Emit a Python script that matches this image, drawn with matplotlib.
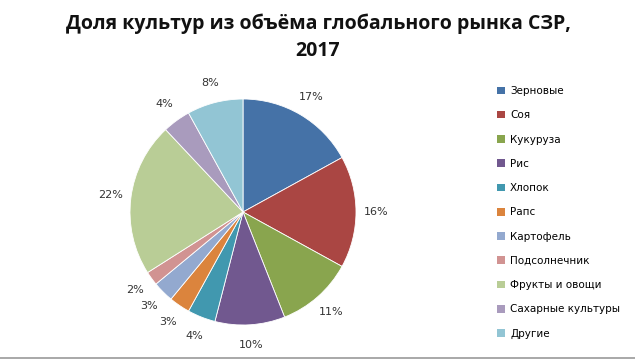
import matplotlib
matplotlib.use("Agg")
import matplotlib.pyplot as plt
from matplotlib.patches import Patch
from matplotlib.lines import Line2D

categories = ["Зерновые", "Соя", "Кукуруза", "Рис", "Хлопок", "Рапс",
              "Картофель", "Подсолнечник", "Фрукты и овощи",
              "Сахарные культуры", "Другие"]
values = [17, 16, 11, 10, 4, 3, 3, 2, 22, 4, 8]
colors = ["#4572A7", "#AA4643", "#89A54E", "#71588F", "#4198AF", "#DB843D",
          "#93A9CF", "#D19392", "#B9CD96", "#A99BBD", "#92C5D4"]
title = "Доля культур из объёма глобального рынка СЗР,\n2017"

W, H = 635, 361
fig = plt.figure(figsize=(W / 100, H / 100), dpi=100)
fig.patch.set_facecolor("white")

cx, cy, r = 243, 212, 113
ax = fig.add_axes([(cx - r) / W, (H - cy - r) / H, 2 * r / W, 2 * r / H])
wedges, texts, autotexts = ax.pie(
    values, colors=colors, startangle=90, counterclock=False,
    autopct="%d%%", pctdistance=1.18, radius=1,
    wedgeprops=dict(edgecolor="white", linewidth=0.6),
    textprops=dict(fontsize=8, color="#333333", family="DejaVu Sans"))
ax.set_xlim(-1, 1)
ax.set_ylim(-1, 1)
ax.set_aspect("equal")
ax.axis("off")

fig.text(318 / W, 1 - 37 / H, title, ha="center", va="center",
         fontsize=14, fontweight="bold", family="Open Sans",
         color="#111111", linespacing=1.5)

handles = [Patch(facecolor=c, edgecolor="none") for c in colors]
fig.legend(handles, categories, loc="upper left",
           bbox_to_anchor=(497 / W, 1 - 86 / H), frameon=False,
           prop=dict(family="DejaVu Sans", size=7.5),
           handlelength=0.75, handleheight=0.75, handletextpad=0.5,
           labelspacing=1.37, borderpad=0, borderaxespad=0)

fig.add_artist(Line2D([0, 1], [1 - 358 / H, 1 - 358 / H],
                      transform=fig.transFigure, color="#999999", lw=1.2))

fig.savefig("out.png", dpi=100)
